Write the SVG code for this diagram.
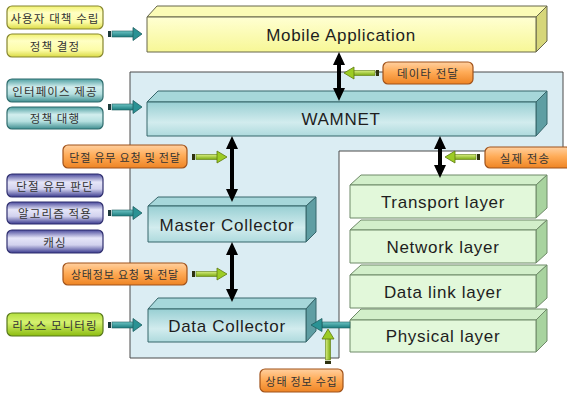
<svg xmlns="http://www.w3.org/2000/svg" xmlns:xlink="http://www.w3.org/1999/xlink" width="567" height="394" viewBox="0 0 567 394">
  <style>
    .ko { font-family: "Noto Sans CJK KR", "Noto Sans", sans-serif; font-size: 11.5px; fill: #333; text-anchor: middle; dominant-baseline: central; letter-spacing: 1.1px; }
    .ko.long { letter-spacing: 0.8px; font-size: 11px; }
    .en { font-family: "Liberation Sans", Arial, sans-serif; font-size: 17px; fill: #1e1e1e; text-anchor: middle; dominant-baseline: central; letter-spacing: 0.7px; }
    .pill { stroke-width: 1.2; }
    .yel { fill: url(#gYel); stroke: #85852e; }
    .teal { fill: url(#gTeal); stroke: #2d6b6c; }
    .navy { fill: url(#gNavy); stroke: #2e2e6e; }
    .org { fill: url(#gOrg); stroke: #a0521a; }
    .grn { fill: url(#gGrn); stroke: #56761a; }
    .edge { stroke-width: 1; stroke-linejoin: round; }
    .appF { fill: url(#gApp); stroke: #66664a; }
    .appT { fill: #fbfbb6; stroke: #66664a; }
    .appR { fill: #d6d67a; stroke: #66664a; }
    .colF { fill: url(#gCol); stroke: #37666b; }
    .colT { fill: #a6d7da; stroke: #37666b; }
    .colR { fill: #5f9ea3; stroke: #37666b; }
    .layF { fill: #e2f8da; stroke: #6f8a68; }
    .layT { fill: #d2efca; stroke: #6f8a68; }
    .layR { fill: #a8d39f; stroke: #6f8a68; }
    .dbl { fill: #000; }
  </style>
  <defs>
    <linearGradient id="gYel" x1="0" y1="0" x2="0" y2="1">
      <stop offset="0" stop-color="#f2f270"/>
      <stop offset="0.3" stop-color="#ffffc4"/>
      <stop offset="0.7" stop-color="#fcfca6"/>
      <stop offset="1" stop-color="#dada44"/>
    </linearGradient>
    <linearGradient id="gTeal" x1="0" y1="0" x2="0" y2="1">
      <stop offset="0" stop-color="#4f9fa1"/>
      <stop offset="0.35" stop-color="#d2eeee"/>
      <stop offset="0.65" stop-color="#b6e0e0"/>
      <stop offset="1" stop-color="#3f8e90"/>
    </linearGradient>
    <linearGradient id="gNavy" x1="0" y1="0" x2="0" y2="1">
      <stop offset="0" stop-color="#4a4a9c"/>
      <stop offset="0.35" stop-color="#e6e6f8"/>
      <stop offset="0.65" stop-color="#d2d2ee"/>
      <stop offset="1" stop-color="#3a3a8e"/>
    </linearGradient>
    <linearGradient id="gOrg" x1="0" y1="0" x2="0" y2="1">
      <stop offset="0" stop-color="#ffd0a0"/>
      <stop offset="0.45" stop-color="#ffac58"/>
      <stop offset="1" stop-color="#ee8424"/>
    </linearGradient>
    <linearGradient id="gGrn" x1="0" y1="0" x2="0" y2="1">
      <stop offset="0" stop-color="#b4e040"/>
      <stop offset="0.4" stop-color="#d6f270"/>
      <stop offset="1" stop-color="#8cbc10"/>
    </linearGradient>
    <linearGradient id="gApp" x1="0" y1="0" x2="0" y2="1">
      <stop offset="0" stop-color="#ffffd2"/>
      <stop offset="1" stop-color="#f7f796"/>
    </linearGradient>
    <linearGradient id="gCol" x1="0" y1="0" x2="0" y2="1">
      <stop offset="0" stop-color="#98cfd3"/>
      <stop offset="0.6" stop-color="#d2ecee"/>
      <stop offset="1" stop-color="#aedadd"/>
    </linearGradient>
    <linearGradient id="gShaftT" x1="0" y1="0" x2="0" y2="1">
      <stop offset="0" stop-color="#6cc4c4"/>
      <stop offset="1" stop-color="#1c7c7e"/>
    </linearGradient>
    <linearGradient id="gShaftG" x1="0" y1="0" x2="0" y2="1">
      <stop offset="0" stop-color="#d8f080"/>
      <stop offset="1" stop-color="#7aa810"/>
    </linearGradient>
    <!-- block arrow, teal, pointing right, tail at origin -->
    <g id="arrowTeal">
      <rect x="0" y="-3" width="3" height="6" fill="#1d3a3b"/>
      <rect x="4" y="-3" width="21.5" height="6" fill="url(#gShaftT)" stroke="#1e5e60" stroke-width="0.6"/>
      <polygon points="25,-6.5 34,0 25,6.5" fill="#2a9294" stroke="#1e5e60" stroke-width="0.8"/>
    </g>
    <!-- block arrow, yellow-green, pointing right, tail at origin -->
    <g id="arrowGreen">
      <rect x="0" y="-3" width="3" height="6" fill="#2e3210"/>
      <rect x="4" y="-2.5" width="21.5" height="5" fill="url(#gShaftG)" stroke="#5e7a10" stroke-width="0.6"/>
      <polygon points="25,-6 35,0 25,6" fill="#9ccc24" stroke="#5e7a10" stroke-width="0.8"/>
    </g>
  </defs>

  <rect width="567" height="394" fill="#fff"/>

  <!-- shaded system area -->
  <g id="system-area">
    <path d="M130,72 H563 V151 H339 V358 H130 Z" fill="#dbedf3" stroke="#4a4a4a" stroke-width="1"/>
  </g>

  <!-- 3D blocks -->
  <g id="mobile-application">
    <polygon class="appT edge" points="147,17 157,6 547,6 536,17"/>
    <polygon class="appR edge" points="536,17 547,6 547,41 536,52"/>
    <rect class="appF edge" x="147" y="17" width="389" height="35"/>
    <text class="en" x="341" y="35">Mobile Application</text>
  </g>

  <g id="wamnet">
    <polygon class="colT edge" points="147,102 158,91 547,91 536,102"/>
    <polygon class="colR edge" points="536,102 547,91 547,124 536,136"/>
    <rect class="colF edge" x="147" y="102" width="389" height="34"/>
    <text class="en" x="341" y="119">WAMNET</text>
  </g>

  <g id="master-collector">
    <polygon class="colT edge" points="148,206 158,197 316,197 306,206"/>
    <polygon class="colR edge" points="306,206 316,197 316,232 306,242"/>
    <rect class="colF edge" x="148" y="206" width="158" height="36"/>
    <text class="en" x="227" y="225">Master Collector</text>
  </g>

  <g id="data-collector">
    <polygon class="colT edge" points="148,309 158,298 316,298 306,309"/>
    <polygon class="colR edge" points="306,309 316,298 316,331 306,342"/>
    <rect class="colF edge" x="148" y="309" width="158" height="33"/>
    <text class="en" x="227" y="326">Data Collector</text>
  </g>

  <g id="transport-layer">
    <polygon class="layT edge" points="350,185 361,175 547,175 536,185"/>
    <polygon class="layR edge" points="536,185 547,175 547,208 536,218"/>
    <rect class="layF edge" x="350" y="185" width="186" height="33"/>
    <text class="en" x="443" y="202">Transport layer</text>
  </g>

  <g id="network-layer">
    <polygon class="layT edge" points="350,230 361,220 547,220 536,230"/>
    <polygon class="layR edge" points="536,230 547,220 547,253 536,263"/>
    <rect class="layF edge" x="350" y="230" width="186" height="33"/>
    <text class="en" x="443" y="247">Network layer</text>
  </g>

  <g id="data-link-layer">
    <polygon class="layT edge" points="350,275 361,265 547,265 536,275"/>
    <polygon class="layR edge" points="536,275 547,265 547,298 536,308"/>
    <rect class="layF edge" x="350" y="275" width="186" height="33"/>
    <text class="en" x="443" y="292">Data link layer</text>
  </g>

  <g id="physical-layer">
    <polygon class="layT edge" points="350,320 361,309 547,309 536,320"/>
    <polygon class="layR edge" points="536,320 547,309 547,341 536,352"/>
    <rect class="layF edge" x="350" y="320" width="186" height="32"/>
    <text class="en" x="443" y="336">Physical layer</text>
  </g>

  <!-- connectors -->
  <g id="connectors">
    <!-- two-way links between layers -->
    <polygon class="dbl" points="339,52 345,65 341,65 341,88 345,88 339,101 333,88 337,88 337,65 333,65"/>
    <polygon class="dbl" points="232,136 238,149 234,149 234,189 238,189 232,202 226,189 230,189 230,149 226,149"/>
    <polygon class="dbl" points="232,242 238,255 234,255 234,289 238,289 232,302 226,289 230,289 230,255 226,255"/>
    <polygon class="dbl" points="440,136 446,149 442,149 442,165 446,165 440,178 434,165 438,165 438,149 434,149"/>

    <!-- role arrows from the left -->
    <use xlink:href="#arrowTeal" x="108" y="34"/>
    <use xlink:href="#arrowTeal" x="108" y="107"/>
    <use xlink:href="#arrowTeal" x="108" y="213"/>
    <use xlink:href="#arrowTeal" x="108" y="325"/>

    <!-- message arrows -->
    <use xlink:href="#arrowGreen" x="192" y="157"/>
    <use xlink:href="#arrowGreen" x="192" y="274"/>
    <use xlink:href="#arrowGreen" transform="translate(379,73) scale(-1,1)"/>
    <use xlink:href="#arrowGreen" transform="translate(480,157) scale(-1,1)"/>
    <use xlink:href="#arrowGreen" transform="translate(328,364) rotate(-90)"/>

    <!-- physical layer feeding the data collector -->
    <rect x="322" y="322" width="28" height="6" fill="url(#gShaftT)" stroke="#1e5e60" stroke-width="0.6"/>
    <polygon points="322,318.5 311,325 322,331.5" fill="#2a9294" stroke="#1e5e60" stroke-width="0.8"/>
  </g>

  <!-- labels -->
  <g id="label-user-policy">
    <rect class="pill yel" x="7" y="6" width="96" height="23" rx="5"/>
    <text class="ko" x="55" y="17.5">사용자 대책 수립</text>
  </g>
  <g id="label-policy-decision">
    <rect class="pill yel" x="7" y="34" width="96" height="23" rx="5"/>
    <text class="ko" x="55" y="45.5">정책 결정</text>
  </g>
  <g id="label-interface">
    <rect class="pill teal" x="7" y="79" width="96" height="23" rx="5"/>
    <text class="ko" x="55" y="90.5">인터페이스 제공</text>
  </g>
  <g id="label-policy-proxy">
    <rect class="pill teal" x="7" y="107" width="96" height="22" rx="5"/>
    <text class="ko" x="55" y="118">정책 대행</text>
  </g>
  <g id="label-disconnect-request">
    <rect class="pill org" x="63" y="145" width="124" height="23" rx="5"/>
    <text class="ko long" x="125" y="156.5">단절 유무 요청 및 전달</text>
  </g>
  <g id="label-disconnect-judge">
    <rect class="pill navy" x="7" y="174" width="96" height="23" rx="5"/>
    <text class="ko" x="55" y="185.5">단절 유무 판단</text>
  </g>
  <g id="label-algorithm">
    <rect class="pill navy" x="7" y="202" width="96" height="22" rx="5"/>
    <text class="ko" x="55" y="213">알고리즘 적용</text>
  </g>
  <g id="label-caching">
    <rect class="pill navy" x="7" y="230" width="96" height="23" rx="5"/>
    <text class="ko" x="55" y="241.5">캐싱</text>
  </g>
  <g id="label-status-request">
    <rect class="pill org" x="63" y="263" width="124" height="22" rx="5"/>
    <text class="ko long" x="125" y="274">상태정보 요청 및 전달</text>
  </g>
  <g id="label-resource-monitoring">
    <rect class="pill grn" x="7" y="313" width="96" height="23" rx="5"/>
    <text class="ko" x="55" y="324.5">리소스 모니터링</text>
  </g>
  <g id="label-status-collect">
    <rect class="pill org" x="260" y="369" width="83" height="23" rx="5"/>
    <text class="ko long" x="301.5" y="380.5">상태 정보 수집</text>
  </g>
  <g id="label-data-delivery">
    <rect class="pill org" x="383" y="62" width="90" height="22" rx="5"/>
    <text class="ko" x="428" y="73">데이타 전달</text>
  </g>
  <g id="label-transmission">
    <rect class="pill org" x="485" y="147" width="86" height="21" rx="5"/>
    <text class="ko" x="525" y="157.5">실제 전송</text>
  </g>
</svg>
